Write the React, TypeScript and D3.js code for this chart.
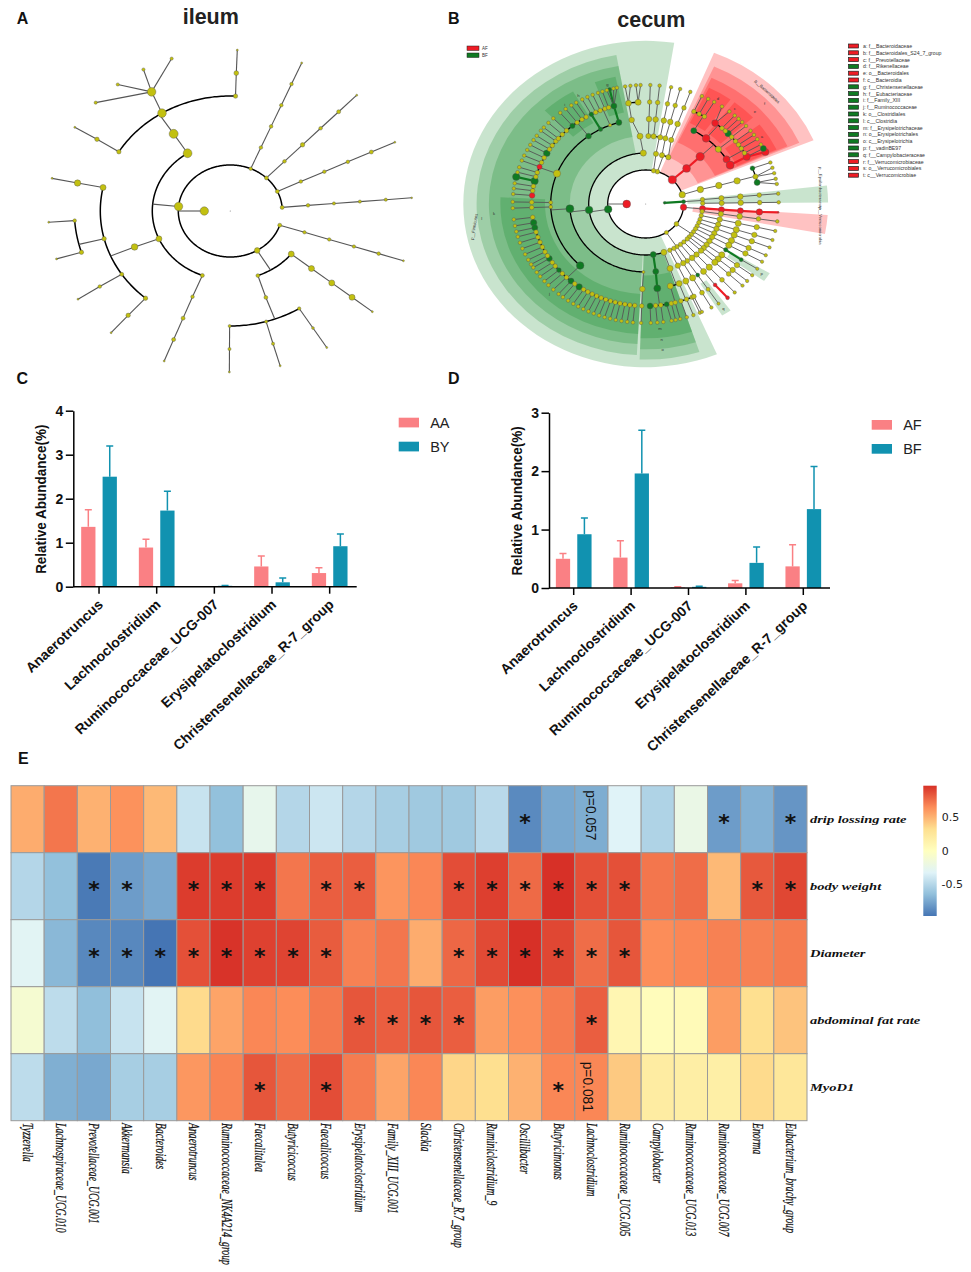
import React, { useEffect, useRef } from 'react';
import * as d3 from 'd3';

// ---------- panel A (ileum) cladogram: [id, parent, angle, radius]
const ileumNodes: any[] = [
    ['root', '', 0, 0.6], ['k', 'root', 180, 4.2],
    ['a', 'k', 185.7, 4.2], ['r1', 'k', 293.1, 1.8], ['r2', 'k', 314, 2], ['r3', 'k', 334.8, 2], ['r4', 'k', 355.5, 2], ['r5', 'k', 18, 2], ['s', 'k', 58.9, 2.8],
    ['s3a', 's', 38.6, 3], ['s3b', 's', 69.3, 1.9], ['s4', 's3b', 70, 1.9],
    ['s5a', 's4', 90.3, 1.5], ['s5b', 's4', 74, 1.6], ['s5c', 's4', 58, 1.7],
    ['A', 'a', 236.8, 4.4], ['B', 'a', 156.2, 3], ['C', 'a', 111, 2],
    ['A4', 'A', 237, 4.5], ['A5a', 'A4', 211, 2.2], ['A5b', 'A4', 238.3, 4.3], ['A5c', 'A4', 272.3, 2.2], ['A6', 'A5b', 239.7, 4.3],
    ['B4', 'B', 157, 3.3], ['B5a', 'B4', 191.8, 3], ['B5b', 'B4', 166, 2.2], ['B5c', 'B4', 146.6, 2], ['B5d', 'B4', 130.7, 2.2],
    ['B6a', 'B5b', 176, 1.8], ['B6b', 'B5b', 162.6, 2.2],
];
const ileumRays: any[] = [
    ['r1', [293.1], [1.8, 1.8, 1.8, 1.8, 1]], ['r2', [314], [1.8, 2.2, 1.8, 2, 1]], ['r3', [334.7], [1.8, 1.8, 1.8, 2, 1]],
    ['r4', [355.3], [1.8, 1.6, 1.6, 1.6, 0.9]], ['r5', [18], [1.7, 1.7, 1.7, 1.8, 1]], ['s3a', [38.7], [3, 3, 3, 1]],
    ['s5a', [90.3], [1.6, 1]], ['s5b', [74.1], [1.6, 1]], ['s5c', [58], [1.4, 1]],
    ['C', [111.3], [1.8, 2, 2, 1]], ['A5a', [211.3], [2.2, 1]], ['A5c', [272.2], [2.4, 1]],
    ['A6', [251.2, 241.5, 231.8, 222.3], [1.6]], ['B5a', [191.7], [3.2, 1]], ['B6a', [176], [1]], ['B6b', [162.7], [1]],
    ['B5c', [146.8], [1.8, 1]], ['B5d', [130.9], [2.2, 1]],
];

// ---------- panel B (cecum) cladogram: [id, parent, angle, radius, fill]
const cecumNodes: any[] = [
    ['root', '', 0, 0.5, 'Y'], ['red1', 'root', 180, 3.9, 'R'], ['g1', 'root', 356, 1.4, 'G'],
    ['firm', 'red1', 171, 3.8, 'G'], ['l57', 'red1', 57, 2.1, 'Y'], ['l36', 'red1', 36, 2.4, 'Y'], ['verr', 'red1', 5.6, 3.2, 'R'],
    ['prot', 'red1', 344, 3.2, 'Y'], ['bact', 'red1', 314.5, 4.1, 'R'], ['top2', 'red1', 288, 2.3, 'Y'], ['top1', 'red1', 282, 2.3, 'Y'],
    ['g2', 'g1', 356, 2, 'G'],
    ['clos3', 'firm', 173.3, 3.8, 'G'], ['ery3', 'firm', 82.4, 3, 'G'], ['y3', 'firm', 71.4, 3, 'Y'], ['t3', 'firm', 267.6, 3.1, 'Y'],
    ['clos4', 'clos3', 176, 4, 'G'], ['y4b', 'clos3', 91.7, 1.5, 'Y'],
    ['f133', 'clos4', 133.6, 3.8, 'G'], ['f176', 'clos4', 178, 1.9, 'Y'], ['f181', 'clos4', 181, 1.9, 'Y'], ['f201', 'clos4', 201, 3.6, 'Y'],
    ['f233', 'clos4', 233, 2.9, 'G'], ['f241', 'clos4', 241.6, 2.2, 'G'], ['f248', 'clos4', 248, 1.6, 'Y'], ['f253', 'clos4', 253.6, 3, 'G'],
    ['g169', 'f133', 169.4, 3.2, 'G'], ['g166', 'f133', 166.6, 3, 'G'], ['g147', 'f133', 147.7, 2.9, 'G'], ['g139', 'f133', 139.6, 2.4, 'G'], ['g131', 'f133', 130.9, 3, 'G'], ['g126', 'f133', 125.7, 3.2, 'G'],
    ['r184', 'f201', 184.8, 2.8, 'R'], ['g193', 'f201', 193, 3.7, 'G'], ['t193', 'g193', 193.2, 3.7, 'G'], ['r201', 'f201', 201.4, 2.6, 'R'], ['g210', 'f201', 209.8, 3.3, 'G'],
    ['g230', 'f233', 230, 2.6, 'G'], ['g241', 'f241', 241.5, 2.4, 'G'], ['g253', 'f253', 253.8, 3, 'G'], ['t254', 'g253', 254.3, 2, 'G'],
    ['ery4', 'ery3', 82.4, 3, 'G'], ['ery5', 'ery4', 83, 3.5, 'G'], ['ery6a', 'ery5', 87.8, 3, 'G'], ['ery6b', 'ery5', 79.4, 2.5, 'G'],
    ['y4c', 'y3', 71.3, 3, 'Y'], ['y5a', 'y4c', 75, 3, 'Y'], ['y5b', 'y4c', 69.4, 3, 'Y'],
    ['t4', 't3', 265.7, 3, 'Y'], ['t5a', 't4', 261.5, 2.8, 'Y'], ['t6a', 't5a', 261.3, 2.9, 'Y'], ['t6b', 't5a', 266.2, 3, 'Y'],
    ['top3a', 'top1', 280.4, 2.6, 'Y'], ['top3b', 'top2', 286.6, 2.6, 'Y'], ['top3c', 'top2', 293.4, 2.6, 'Y'],
    ['bact3', 'bact', 315.8, 3.9, 'R'], ['bact4', 'bact3', 315.8, 4.2, 'R'],
    ['b300', 'bact4', 300.4, 3, 'G'], ['b309', 'bact4', 309.5, 3.8, 'R'], ['b320', 'bact4', 319.9, 3.1, 'Y'], ['b328', 'bact4', 328.3, 3.5, 'R'], ['b333', 'bact4', 332.7, 4, 'R'],
    ['b307', 'b309', 307.5, 3.4, 'R'], ['b316', 'b320', 316.3, 3.2, 'G'], ['b332', 'b333', 332.4, 3.6, 'R'], ['b334', 'b332', 334.1, 3.6, 'R'], ['b332g', 'b332', 332.2, 3, 'G'],
    ['p3', 'prot', 343.5, 3.2, 'Y'], ['p4', 'p3', 344.2, 3.2, 'Y'], ['p5', 'p4', 344.2, 3.2, 'Y'],
    ['p6a', 'p5', 339.5, 2.4, 'G'], ['p6b', 'p5', 344.4, 2.6, 'Y'], ['p6c', 'p5', 347.8, 3, 'G'],
    ['v3', 'verr', 5, 3, 'R'], ['v4', 'v3', 4.8, 3, 'R'], ['v5', 'v4', 4.6, 3, 'R'], ['v6', 'v5', 4.5, 3.2, 'R'], ['v7', 'v6', 4, 0.8, 'R'],
    ['l3a', 'l36', 33, 2.2, 'Y'], ['l4a', 'l3a', 33, 2.8, 'Y'], ['g5a', 'l4a', 32.6, 2.2, 'G'], ['g6a', 'g5a', 33.1, 2, 'G'], ['t7a', 'g6a', 33, 1.6, 'Y'],
    ['l3b', 'l57', 52.4, 2.2, 'Y'], ['l4b', 'l3b', 52.4, 2.8, 'Y'], ['l5b', 'l4b', 52.5, 3, 'Y'], ['r6', 'l5b', 52.5, 1.9, 'R'], ['r7', 'r6', 52, 1.9, 'R'],
    ['l3c', 'l57', 56.8, 2.2, 'Y'], ['l4c', 'l3c', 56.8, 2.4, 'Y'], ['g5c', 'l4c', 56.8, 2, 'G'], ['y6c', 'g5c', 56.8, 2, 'Y'], ['t7c', 'y6c', 56.8, 1.6, 'Y'],
];
const cecumRays: any[] = [
    ['g2', [355, 359.2]], ['y4b', [92]], ['verr', [8.4]],
    ['f176', [178]], ['f181', [181]],
    ['f133', [172.5, 164, 161, 158, 155, 152, 149.5, 145, 142.5, 137, 134, 128.5, 123, 120.5, 118, 115.5, 113, 110.5, 108, 105.5, 103, 100.5, 98, 95.5]],
    ['g169', [169.4]], ['g166', [166.6]], ['g147', [147.7]], ['g139', [139.6]], ['g131', [130.9]], ['g126', [125.7]],
    ['f201', [187.5, 190, 195.5, 198, 204, 207, 212.5, 215, 218]],
    ['r184', [184.8]], ['r201', [201.4]], ['g210', [209.8]],
    ['f233', [220, 223, 226, 233, 236, 238.5]], ['g230', [230]], ['g241', [241.5]],
    ['f248', [244, 246.5, 249, 251]], ['g253', [253, 256, 257.5]],
    ['ery5', [85, 82.4]], ['ery6a', [87.8]], ['ery6b', [78.8]],
    ['y5a', [77, 75]], ['y5b', [72, 69, 66]],
    ['t6a', [261.1, 263.4]], ['t6b', [265.8, 267.8]],
    ['top3a', [272, 276, 281]], ['top3b', [285]], ['top3c', [289.6]],
    ['b300', [295, 298, 301]], ['b309', [312]], ['b307', [305, 309]], ['b320', [314.3, 319, 322]], ['b316', [316.5]], ['b328', [324.5, 327, 330]],
    ['p6a', [339.6]], ['p6b', [342.3, 345]], ['p6c', [347.8, 350.3]],
    ['l36', [13.1, 17.6, 21.4, 25.5, 29, 36.8, 40.3], [2.2, 2.7, 3.1, 2.7, 1.7]], ['l57', [43.3, 48, 60.4, 65], [2.2, 2.7, 3.1, 2.4, 1.7]],
];
// [startAngle, endAngle, innerLevel, outerLevel]
const greenSectors = [
    [67, 279, 2, 9.6], [93, 260, 3, 8.9], [93, 260, 4, 8.25], [93, 183, 5.3, 7.65], [226, 240, 5.5, 7.65], [249.5, 258, 5.5, 7.65],
    [72, 92, 3, 9.15], [72, 92, 3, 8.55], [72, 92, 4.2, 7.9],
    [353.5, 359.5, 2.2, 9.6], [32, 36, 5.3, 7.7], [54.5, 58.5, 5.5, 7.7],
];
const redSectors = [
    [292, 337, 2, 9.6], [294, 336, 3, 8.85], [295, 335.5, 4, 8.2], [296, 306, 5.3, 7.6], [308, 318, 5.3, 7.6], [322, 335, 5.3, 7.6],
    [3.9, 10.6, 2.5, 9.6],
];
// [text, angle, level, rotation]
const cecumSectorText: any[] = [
    ['p__Firmicutes', 171.6, 9.13, -80], ['p__Bacteroidetes', 314, 9.2, 43], ['p__Epsilonbacteraeota', 354.3, 9.27, 90], ['p__Verrucomicrobia', 8, 9.27, 90],
    ['l', 174.4, 8.67, 0], ['k', 176, 8, 0], ['j', 134, 7.3, 0], ['i', 234, 7.25, 0], ['h', 241, 7.3, 0], ['g', 254, 7.3, 0],
    ['d', 301.4, 7.3, 0], ['c', 310, 7.3, 0], ['e', 316.7, 7.9, 0], ['f', 316.7, 8.6, 0], ['a', 327, 7.3, 0],
    ['m', 84.1, 7.35, 0], ['n', 84, 8, 0], ['o', 84, 8.6, 0], ['p', 33.8, 7.35, 0], ['q', 56.3, 7.37, 0],
];
const cecumLegendText = [
    'a: f__Bacteroidaceae', 'b: f__Bacteroidales_S24_7_group', 'c: f__Prevotellaceae', 'd: f__Rikenellaceae', 'e: o__Bacteroidales', 'f: c__Bacteroidia',
    'g: f__Christensenellaceae', 'h: f__Eubacteriaceae', 'i: f__Family_XIII', 'j: f__Ruminococcaceae', 'k: o__Clostridiales', 'l: c__Clostridia',
    'm: f__Erysipelotrichaceae', 'n: o__Erysipelotrichales', 'o: c__Erysipelotrichia', 'p: f__vadinBE97', 'q: f__Campylobacteraceae',
    'r: f__Verrucomicrobiaceae', 's: o__Verrucomicrobiales', 't: c__Verrucomicrobiae',
];
const cecumLegendFill = ['R', 'R', 'R', 'G', 'R', 'R', 'G', 'G', 'G', 'G', 'G', 'G', 'G', 'G', 'G', 'G', 'G', 'R', 'R', 'R'];

// ---------- panels C and D
const barGenera = ['Anaerotruncus', 'Lachnoclostridium', 'Ruminococcaceae_UCG-007', 'Erysipelatoclostridium', 'Christensenellaceae_R-7_group'];
const aaValues = [1.36, 0.89, 0, 0.46, 0.31];
const aaTops = [1.75, 1.08, 0, 0.7, 0.43];
const byValues = [2.5, 1.73, 0.02, 0.1, 0.92];
const byTops = [3.2, 2.17, 0.03, 0.2, 1.2];
const afValues = [0.5, 0.52, 0.01, 0.08, 0.37];
const afTops = [0.59, 0.81, 0.02, 0.13, 0.74];
const bfValues = [0.92, 1.96, 0.02, 0.43, 1.35];
const bfTops = [1.2, 2.7, 0.03, 0.7, 2.08];

// ---------- panel E
const heatGenera = [
    'Tyzzerella', 'Lachnospiraceae_UCG.010', 'Prevotellaceae_UCG.001', 'Akkermansia', 'Bacteroides', 'Anaerotruncus',
    'Ruminococcaceae_NK4A214_group', 'Faecalitalea', 'Butyricicoccus', 'Faecalicoccus', 'Erysipelatoclostridium', 'Family_XIII_UCG.001',
    'Slackia', 'Christensenellaceae_R.7_group', 'Ruminiclostridium_9', 'Oscillibacter', 'Butyricimonas', 'Lachnoclostridium',
    'Ruminococcaceae_UCG.005', 'Campylobacter', 'Ruminococcaceae_UCG.013', 'Ruminococcaceae_UCG.007', 'Enorma', 'Eubacterium_brachy_group',
];
const heatTraits = ['drip lossing rate', 'body weight', 'Diameter', 'abdominal fat rate', 'MyoD1'];
const dripLossing = [0.52, 0.72, 0.5, 0.62, 0.47, -0.42, -0.63, -0.25, -0.5, -0.4, -0.5, -0.55, -0.58, -0.58, -0.48, -0.87, -0.74, -0.72, -0.32, -0.52, -0.22, -0.79, -0.7, -0.82];
const bodyWeight = [-0.5, -0.63, -0.94, -0.79, -0.74, 0.92, 0.92, 0.92, 0.72, 0.8, 0.8, 0.61, 0.66, 0.86, 0.91, 0.76, 0.96, 0.85, 0.85, 0.72, 0.75, 0.47, 0.82, 0.88];
const diameter = [-0.3, -0.67, -0.88, -0.88, -0.96, 0.85, 0.95, 0.9, 0.89, 0.81, 0.68, 0.72, 0.52, 0.77, 0.87, 0.96, 0.88, 0.75, 0.83, 0.64, 0.66, 0.68, 0.68, 0.7];
const abdominalFat = [-0.1, -0.46, -0.64, -0.42, -0.3, 0.34, 0.55, 0.66, 0.64, 0.71, 0.83, 0.8, 0.83, 0.8, 0.58, 0.63, 0.7, 0.8, 0.09, 0.03, 0.05, 0.58, 0.32, 0.43];
const myoD1 = [-0.46, -0.71, -0.74, -0.55, -0.55, 0.6, 0.67, 0.83, 0.75, 0.86, 0.7, 0.55, 0.66, 0.36, 0.32, 0.5, 0.66, 0.66, 0.41, 0.2, 0.18, 0.17, 0.34, 0.25];
const heatValues = [dripLossing, bodyWeight, diameter, abdominalFat, myoD1];
const starColumns = [
    [15, 21, 23],
    [2, 3, 5, 6, 7, 9, 10, 13, 14, 15, 16, 17, 18, 22, 23],
    [2, 3, 4, 5, 6, 7, 8, 9, 13, 14, 15, 16, 17, 18],
    [10, 11, 12, 13, 17],
    [7, 9, 16],
];
const heatPalette = ['#4575B4', '#91BFDB', '#E0F3F8', '#FFFFBF', '#FEE090', '#FC8D59', '#D73027'];
const heatStops = [-0.96, -0.64, -0.32, 0, 0.32, 0.64, 0.96];
const colorbarTicks = [0.5, 0, -0.5];

const SANS = '"Liberation Sans", Arial, sans-serif';
const SERIF = '"Liberation Serif", serif';
const cladeFill: any = { Y: '#C2C010', G: '#0F7A22', R: '#EE1C25' };

const buildClade = (nodes: any[], rays: any[], defaultSizes: number[]) => {
    const levels = new Map<string, number>();
    const rows: any[] = [];
    nodes.forEach(([id, parent, angle, size, fill]) => {
        const level = parent ? levels.get(parent)! + 1 : 0;
        levels.set(id, level);
        rows.push({ id, parent, angle, size, fill: fill || 'Y', level });
    });
    rays.forEach(([parent, angles, sizes]) => {
        angles.forEach((angle: number) => {
            let p = parent;
            for (let level = levels.get(parent)! + 1, i = 0; level <= 7; level++, i++) {
                const id = `${parent}_${angle}_${level}`;
                const size = sizes ? sizes[i] : defaultSizes[level];
                rows.push({ id, parent: p, angle, size, fill: 'Y', level });
                p = id;
            }
        });
    });
    return rows;
};

const drawClade = (svg: any, rows: any[], cx: number, cy: number, sx: number, sy: number, lineWidth: number, arcWidth: number) => {
    const rx = d3.scaleLinear().domain([0, 7]).range([0, sx * 7]);
    const ry = d3.scaleLinear().domain([0, 7]).range([0, sy * 7]);
    const rad = (a: number) => (a * Math.PI) / 180;
    const pos = (a: number, level: number): [number, number] => [cx + rx(level) * Math.cos(rad(a)), cy + ry(level) * Math.sin(rad(a))];
    const byId = new Map(rows.map(d => [d.id, d]));
    const kids = d3.group(rows.filter(d => d.parent), d => d.parent);
    const line = d3.line();
    const g = svg.append('g');

    kids.forEach((children: any[], pid: string) => {
        const parent: any = byId.get(pid);
        if (parent.level === 0) return;
        const level = parent.level + 1;
        if (children.length > 1 && level < 7) {
            const lo = Math.min(parent.angle, ...children.map(c => c.angle));
            const hi = Math.max(parent.angle, ...children.map(c => c.angle));
            g.append('path')
                .attr('d', line(d3.range(lo, hi, 1).concat(hi).map(a => pos(a, level))))
                .attr('fill', 'none').attr('stroke', '#000').attr('stroke-width', arcWidth);
            g.append('path')
                .attr('d', line([pos(parent.angle, parent.level), pos(parent.angle, level)]))
                .attr('stroke', '#555').attr('stroke-width', lineWidth);
        } else {
            children.forEach(c => {
                const coloured = c.fill !== 'Y' && parent.fill === c.fill;
                g.append('path')
                    .attr('d', line([pos(parent.angle, parent.level), pos(c.angle, level)]))
                    .attr('stroke', coloured ? cladeFill[c.fill] : '#555')
                    .attr('stroke-width', coloured ? lineWidth * 2.4 : lineWidth);
            });
        }
    });

    g.selectAll('circle').data(rows).enter().append('circle')
        .attr('cx', (d: any) => pos(d.angle, d.level)[0])
        .attr('cy', (d: any) => pos(d.angle, d.level)[1])
        .attr('r', (d: any) => d.size)
        .attr('fill', (d: any) => (d.level === 0 ? '#888' : cladeFill[d.fill]))
        .attr('stroke', '#555').attr('stroke-width', (d: any) => (d.level === 0 ? 0 : 0.4));
};

const drawSectors = (svg: any, sectors: number[][], colour: string, cx: number, cy: number, sx: number, sy: number) => {
    const arc = d3.arc();
    const rad = (a: number) => ((a + 90) * Math.PI) / 180;
    svg.append('g')
        .attr('transform', `translate(${cx},${cy}) scale(${sx},${sy})`)
        .selectAll('path').data(sectors).enter().append('path')
        .attr('d', (d: number[]) => arc({ startAngle: rad(d[0]), endAngle: rad(d[1]), innerRadius: d[2], outerRadius: d[3] } as any))
        .attr('fill', colour);
};

const drawBars = (svg: any, cfg: any) => {
    const { x0, x1, y0, yTop, bandStart, bandEnd, yMax, names, s1, s1Tops, s2, s2Tops, legendX, legendY, titleX, legend } = cfg;
    const x = d3.scaleBand().domain(barGenera).range([bandStart, bandEnd]);
    const y = d3.scaleLinear().domain([0, yMax]).range([y0, yTop]);
    const sub = d3.scaleBand().domain(names).range([-17.85, 17.85]).paddingInner(1 / 3);
    const series = [
        { name: names[0], values: s1, tops: s1Tops, colour: '#FA8084' },
        { name: names[1], values: s2, tops: s2Tops, colour: '#1192B0' },
    ];
    const g = svg.append('g');
    series.forEach(s => {
        barGenera.forEach((genus, i) => {
            const left = x(genus)! + x.bandwidth() / 2 + sub(s.name)!;
            const mid = left + sub.bandwidth() / 2;
            g.append('rect').attr('x', left).attr('y', y(s.values[i])).attr('width', sub.bandwidth())
                .attr('height', y0 - y(s.values[i])).attr('fill', s.colour);
            if (s.tops[i] > 0) {
                g.append('path').attr('d', `M${mid},${y(s.values[i])}V${y(s.tops[i])}M${mid - 3.5},${y(s.tops[i])}H${mid + 3.5}`)
                    .attr('stroke', s.colour).attr('stroke-width', 1.5).attr('fill', 'none');
            }
        });
    });

    const xAxis = g.append('g').attr('transform', `translate(0,${y0})`)
        .call(d3.axisBottom(x).tickSize(7).tickSizeOuter(0));
    xAxis.select('.domain').attr('d', `M${x0},0H${x1}`);
    xAxis.selectAll('line,path').attr('stroke', '#000').attr('stroke-width', 1.5);
    xAxis.selectAll('text')
        .attr('font-family', SANS).attr('font-weight', 'bold').attr('font-size', 14).attr('fill', '#111')
        .attr('text-anchor', 'end').attr('dy', 0).attr('y', 0)
        .attr('transform', 'translate(5,19) rotate(-43)');

    const yAxis = g.append('g').attr('transform', `translate(${x0},0)`)
        .call(d3.axisLeft(y).ticks(yMax).tickFormat(d3.format('d') as any).tickSize(7.5).tickSizeOuter(0));
    yAxis.selectAll('line,path').attr('stroke', '#000').attr('stroke-width', 1.5);
    yAxis.selectAll('text').attr('font-family', SANS).attr('font-weight', 'bold').attr('font-size', 14).attr('fill', '#111').attr('x', -10);

    g.append('text').attr('transform', `translate(${titleX},${(y0 + yTop) / 2 + 0.5}) rotate(-90) scale(1,1.15)`)
        .attr('text-anchor', 'middle').attr('font-family', SANS).attr('font-weight', 'bold').attr('font-size', 13.5)
        .attr('dominant-baseline', 'central').attr('fill', '#111').text('Relative Abundance(%)');

    series.forEach((s, i) => {
        g.append('rect').attr('x', legendX).attr('y', legendY + i * 24).attr('width', 20.3).attr('height', 9.7).attr('fill', s.colour);
        g.append('text').attr('x', legendX + 31.5).attr('y', legendY + i * 24 + 5).attr('dominant-baseline', 'central')
            .attr('font-family', SANS).attr('font-size', 14.5).attr('fill', '#222').text(legend[i]);
    });
};

const drawHeatmap = (svg: any) => {
    const x = d3.scaleBand().domain(heatGenera).range([11, 807]);
    const y = d3.scaleBand().domain(heatTraits).range([785.7, 1120.7]);
    const colour = d3.scaleLinear<string>().domain(heatStops).range(heatPalette);
    const g = svg.append('g');

    heatTraits.forEach((trait, r) => {
        g.selectAll(null).data(heatValues[r]).enter().append('rect')
            .attr('x', (_: number, i: number) => x(heatGenera[i]))
            .attr('y', y(trait))
            .attr('width', x.bandwidth()).attr('height', y.bandwidth())
            .attr('fill', (d: number) => colour(d))
            .attr('stroke', '#9A9A9A').attr('stroke-width', 1);
        g.selectAll(null).data(starColumns[r]).enter().append('text')
            .attr('x', (c: number) => x(heatGenera[c])! + x.bandwidth() / 2)
            .attr('y', y(trait)! + y.bandwidth() / 2)
            .attr('dy', 11).attr('text-anchor', 'middle')
            .attr('font-family', '"DejaVu Sans"').attr('font-weight', 'bold').attr('font-size', 22).attr('fill', '#111').text('*');
        g.append('text')
            .attr('transform', `translate(810,${y(trait)! + y.bandwidth() / 2}) scale(1.38,1)`)
            .attr('dominant-baseline', 'central')
            .attr('font-family', SERIF).attr('font-style', 'italic').attr('font-weight', 'bold').attr('font-size', 10.5)
            .attr('fill', '#111').text(trait);
    });

    heatGenera.forEach(genus => {
        g.append('text')
            .attr('transform', `translate(${x(genus)! + x.bandwidth() / 2},1123) rotate(90) scale(0.65,1)`)
            .attr('dominant-baseline', 'central')
            .attr('font-family', SERIF).attr('font-style', 'italic').attr('font-size', 15).attr('fill', '#111')
            .attr('stroke', '#111').attr('stroke-width', 0.25).text(genus);
    });

    const lach = x('Lachnoclostridium')! + x.bandwidth() / 2;
    [['p=0.057', 0, lach], ['p=0.081', 4, lach - 3.5]].forEach(([label, r, px]: any) => {
        g.append('text')
            .attr('transform', `translate(${px},${y(heatTraits[r])! + (r === 0 ? 4.5 : 8)}) rotate(90) scale(0.92,1)`)
            .attr('dominant-baseline', 'central').attr('font-family', SANS).attr('font-size', 15).attr('fill', '#111').text(label);
    });

    // colour bar
    const bar = d3.scaleLinear().domain([0.97, -0.97]).range([785.7, 916]);
    const grad = svg.append('defs').append('linearGradient').attr('id', 'heatbar').attr('x1', 0).attr('x2', 0).attr('y1', 1).attr('y2', 0);
    heatPalette.forEach((c, i) => grad.append('stop').attr('offset', `${((heatStops[i] + 0.96) / 1.92) * 100}%`).attr('stop-color', c));
    g.append('rect').attr('x', 923.3).attr('y', bar(0.97)).attr('width', 13.4).attr('height', bar(-0.97) - bar(0.97)).attr('fill', 'url(#heatbar)');
    g.selectAll(null).data(colorbarTicks).enter().append('text')
        .attr('transform', (d: number) => `translate(${d < 0 ? 941.5 : 941.7},${bar(d)}) scale(1.1,1)`)
        .attr('dominant-baseline', 'central').attr('font-family', '"DejaVu Sans"').attr('font-size', 10).attr('fill', '#222')
        .text((d: number) => String(d));
};

const App: React.FC = () => {
    const ref = useRef<SVGSVGElement>(null);

    useEffect(() => {
        const svg = d3.select(ref.current);
        svg.selectAll('*').remove();

        [['A', 16.7, 24], ['B', 448, 24], ['C', 16.5, 384], ['D', 448, 384], ['E', 18, 764]].forEach(([t, px, py]: any) => {
            svg.append('text').attr('x', px).attr('y', py).attr('font-family', SANS).attr('font-weight', 'bold').attr('font-size', 16).attr('fill', '#111').text(t);
        });
        [['ileum', 210.8, 24], ['cecum', 651.3, 26.7]].forEach(([t, px, py]: any) => {
            svg.append('text').attr('x', px).attr('y', py).attr('text-anchor', 'middle').attr('font-family', SANS).attr('font-weight', 'bold').attr('font-size', 21.5).attr('fill', '#222').text(t);
        });

        // A
        drawClade(svg, buildClade(ileumNodes, ileumRays, []), 230.3, 211, 26, 23, 1.1, 1.5);

        // B
        const bx = 645.7, by = 204, bsx = 19, bsy = 17;
        drawSectors(svg, greenSectors, 'rgba(0,128,25,0.21)', bx, by, bsx, bsy);
        drawSectors(svg, redSectors, 'rgba(255,0,0,0.24)', bx, by, bsx, bsy);
        drawClade(svg, buildClade(cecumNodes, cecumRays, [0, 0, 2.2, 2.2, 2.6, 2.8, 2.3, 1.8]), bx, by, bsx, bsy, 0.9, 1.3);
        cecumSectorText.forEach(([t, a, level, rot]) => {
            const px = bx + level * bsx * Math.cos((a * Math.PI) / 180);
            const py = by + level * bsy * Math.sin((a * Math.PI) / 180);
            svg.append('text').attr('transform', `translate(${px},${py}) rotate(${rot})`).attr('text-anchor', 'middle')
                .attr('dominant-baseline', 'central').attr('font-family', SANS).attr('font-size', 4.2).attr('fill', '#333').text(t);
        });
        ['AF', 'BF'].forEach((t, i) => {
            svg.append('rect').attr('x', 467).attr('y', 46 + i * 7).attr('width', 12).attr('height', 4.5).attr('fill', cladeFill[i ? 'G' : 'R']).attr('stroke', '#222').attr('stroke-width', 0.5);
            svg.append('text').attr('x', 482).attr('y', 48.3 + i * 7).attr('dominant-baseline', 'central').attr('font-family', SANS).attr('font-size', 4.5).attr('fill', '#333').text(t);
        });
        cecumLegendText.forEach((t, i) => {
            svg.append('rect').attr('x', 848.5).attr('y', 44 + i * 6.8).attr('width', 10).attr('height', 4).attr('fill', cladeFill[cecumLegendFill[i]]).attr('stroke', '#222').attr('stroke-width', 0.7);
            svg.append('text').attr('x', 863).attr('y', 46 + i * 6.8).attr('dominant-baseline', 'central').attr('font-family', SANS).attr('font-size', 5.2).attr('fill', '#333').text(t);
        });

        // C, D
        drawBars(svg, {
            x0: 73.3, x1: 356.7, y0: 586.7, yTop: 410.7, bandStart: 70.2, bandEnd: 358.5, yMax: 4,
            names: ['AA', 'BY'], s1: aaValues, s1Tops: aaTops, s2: byValues, s2Tops: byTops,
            legendX: 398.7, legendY: 417.7, titleX: 41, legend: ['AA', 'BY'],
        });
        drawBars(svg, {
            x0: 549, x1: 830, y0: 588, yTop: 412.7, bandStart: 545, bandEnd: 832, yMax: 3,
            names: ['AF', 'BF'], s1: afValues, s1Tops: afTops, s2: bfValues, s2Tops: bfTops,
            legendX: 871.7, legendY: 420, titleX: 516.7, legend: ['AF', 'BF'],
        });

        // E
        drawHeatmap(svg);
    }, []);

    return <svg ref={ref} width={971} height={1272} style={{ position: 'absolute', left: 0, top: 0, background: '#fff' }}></svg>;
};

export default App;
